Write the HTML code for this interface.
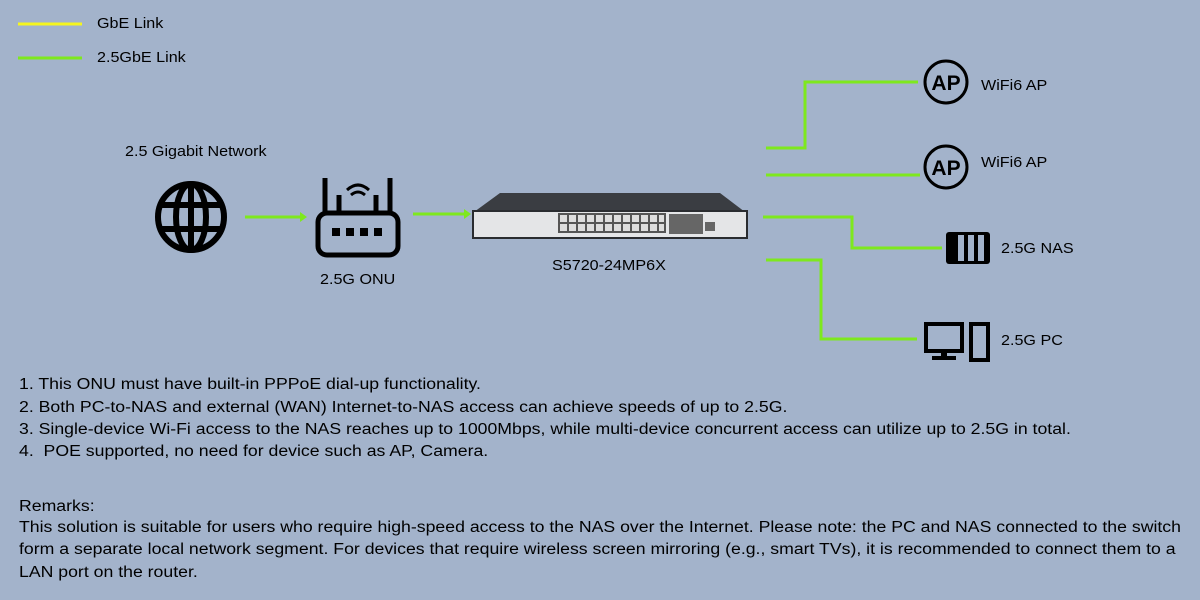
<!DOCTYPE html>
<html><head><meta charset="utf-8"><style>
body{margin:0;width:1200px;height:600px;background:#a3b3cb;overflow:hidden;font-family:"Liberation Sans",sans-serif;color:#000;position:relative}
.t{position:absolute;white-space:nowrap;font-size:15px;transform-origin:0 0;transform:scaleX(1.075)}
.p{font-size:15.5px;transform:scaleX(1.14)}
</style></head><body>
<svg width="1200" height="600" style="position:absolute;left:0;top:0">
<g stroke-width="3" fill="none">
<line x1="18" y1="24" x2="82" y2="24" stroke="#f5f51e"/>
<line x1="18" y1="58" x2="82" y2="58" stroke="#7ee81e"/>
<g stroke="#7ee81e">
<line x1="245" y1="217" x2="300" y2="217"/>
<line x1="413" y1="214" x2="464" y2="214"/>
<polyline points="766,148 805,148 805,82 918,82"/>
<line x1="766" y1="175" x2="920" y2="175"/>
<polyline points="763,217 852,217 852,248 942,248"/>
<polyline points="766,260 821,260 821,339 917,339"/>
</g>
</g>
<polygon points="300,212 307,217 300,222" fill="#7ee81e"/>
<polygon points="464,209 471,214 464,219" fill="#7ee81e"/>
<g fill="none" stroke="#000" stroke-width="6">
<circle cx="191" cy="217" r="33"/>
<ellipse cx="191" cy="217" rx="15" ry="33"/>
<line x1="191" y1="183" x2="191" y2="251"/>
<line x1="159" y1="205" x2="223" y2="205"/>
<line x1="159" y1="229" x2="223" y2="229"/>
</g>
<g fill="none" stroke="#000" stroke-width="5">
<rect x="318" y="213" width="80" height="42" rx="9"/>
<line x1="325" y1="178" x2="325" y2="213"/><line x1="390" y1="178" x2="390" y2="213"/>
<line x1="339" y1="195" x2="339" y2="213"/><line x1="376" y1="195" x2="376" y2="213"/>
<path d="M347 190 Q358 180 369 190" stroke-width="3"/>
<path d="M351 195 Q358 189 365 195" stroke-width="3"/>
</g>
<g fill="#000"><rect x="332" y="228" width="8" height="8"/><rect x="346" y="228" width="8" height="8"/><rect x="360" y="228" width="8" height="8"/><rect x="374" y="228" width="8" height="8"/></g>
<polygon points="500,193 720,193 745,212 474,212" fill="#3a3d42"/>
<rect x="473" y="211" width="274" height="27" fill="#e4e5e7" stroke="#2a2c30" stroke-width="2"/>
<rect x="558" y="213" width="108" height="20" fill="#555"/>
<g fill="#ddd">
<rect x="560" y="215" width="7" height="7"/><rect x="569" y="215" width="7" height="7"/><rect x="578" y="215" width="7" height="7"/><rect x="587" y="215" width="7" height="7"/><rect x="596" y="215" width="7" height="7"/><rect x="605" y="215" width="7" height="7"/><rect x="614" y="215" width="7" height="7"/><rect x="623" y="215" width="7" height="7"/><rect x="632" y="215" width="7" height="7"/><rect x="641" y="215" width="7" height="7"/><rect x="650" y="215" width="7" height="7"/><rect x="659" y="215" width="5" height="7"/>
<rect x="560" y="224" width="7" height="7"/><rect x="569" y="224" width="7" height="7"/><rect x="578" y="224" width="7" height="7"/><rect x="587" y="224" width="7" height="7"/><rect x="596" y="224" width="7" height="7"/><rect x="605" y="224" width="7" height="7"/><rect x="614" y="224" width="7" height="7"/><rect x="623" y="224" width="7" height="7"/><rect x="632" y="224" width="7" height="7"/><rect x="641" y="224" width="7" height="7"/><rect x="650" y="224" width="7" height="7"/><rect x="659" y="224" width="5" height="7"/>
</g>
<g fill="#666"><rect x="669" y="214" width="34" height="20"/><rect x="705" y="222" width="10" height="9"/></g>
<g fill="none" stroke="#000" stroke-width="3">
<circle cx="946" cy="82" r="21"/><circle cx="946" cy="167" r="21"/>
</g>
<text x="946" y="90" font-family="Liberation Sans" font-weight="bold" font-size="21" text-anchor="middle">AP</text>
<text x="946" y="175" font-family="Liberation Sans" font-weight="bold" font-size="21" text-anchor="middle">AP</text>
<rect x="946" y="232" width="44" height="32" rx="3" fill="#000"/>
<g fill="#a3b3cb"><rect x="958" y="235" width="6" height="26"/><rect x="968" y="235" width="6" height="26"/><rect x="978" y="235" width="6" height="26"/></g>
<g fill="none" stroke="#000" stroke-width="4">
<rect x="926" y="324" width="36" height="27"/>
<rect x="971" y="324" width="17" height="36"/>
</g>
<rect x="941" y="351" width="6" height="6" fill="#000"/><rect x="932" y="356" width="24" height="4" fill="#000"/>
</svg>
<div class="t" style="left:97px;top:15px">GbE Link</div>
<div class="t" style="left:97px;top:49px">2.5GbE Link</div>
<div class="t" style="left:125px;top:143px">2.5 Gigabit Network</div>
<div class="t" style="left:320px;top:271px">2.5G ONU</div>
<div class="t" style="left:552px;top:257px">S5720-24MP6X</div>
<div class="t" style="left:981px;top:77px">WiFi6 AP</div>
<div class="t" style="left:981px;top:154px">WiFi6 AP</div>
<div class="t" style="left:1001px;top:240px">2.5G NAS</div>
<div class="t" style="left:1001px;top:332px">2.5G PC</div>
<div class="t p" style="left:19px;top:376px">1. This ONU must have built-in PPPoE dial-up functionality.</div>
<div class="t p" style="left:19px;top:399px">2. Both PC-to-NAS and external (WAN) Internet-to-NAS access can achieve speeds of up to 2.5G.</div>
<div class="t p" style="left:19px;top:421px">3. Single-device Wi-Fi access to the NAS reaches up to 1000Mbps, while multi-device concurrent access can utilize up to 2.5G in total.</div>
<div class="t p" style="left:19px;top:443px">4.&nbsp; POE supported, no need for device such as AP, Camera.</div>
<div class="t p" style="left:19px;top:498px">Remarks:</div>
<div class="t p" style="left:19px;top:519px">This solution is suitable for users who require high-speed access to the NAS over the Internet. Please note: the PC and NAS connected to the switch</div>
<div class="t p" style="left:19px;top:541px">form a separate local network segment. For devices that require wireless screen mirroring (e.g., smart TVs), it is recommended to connect them to a</div>
<div class="t p" style="left:19px;top:564px">LAN port on the router.</div>
</body></html>
